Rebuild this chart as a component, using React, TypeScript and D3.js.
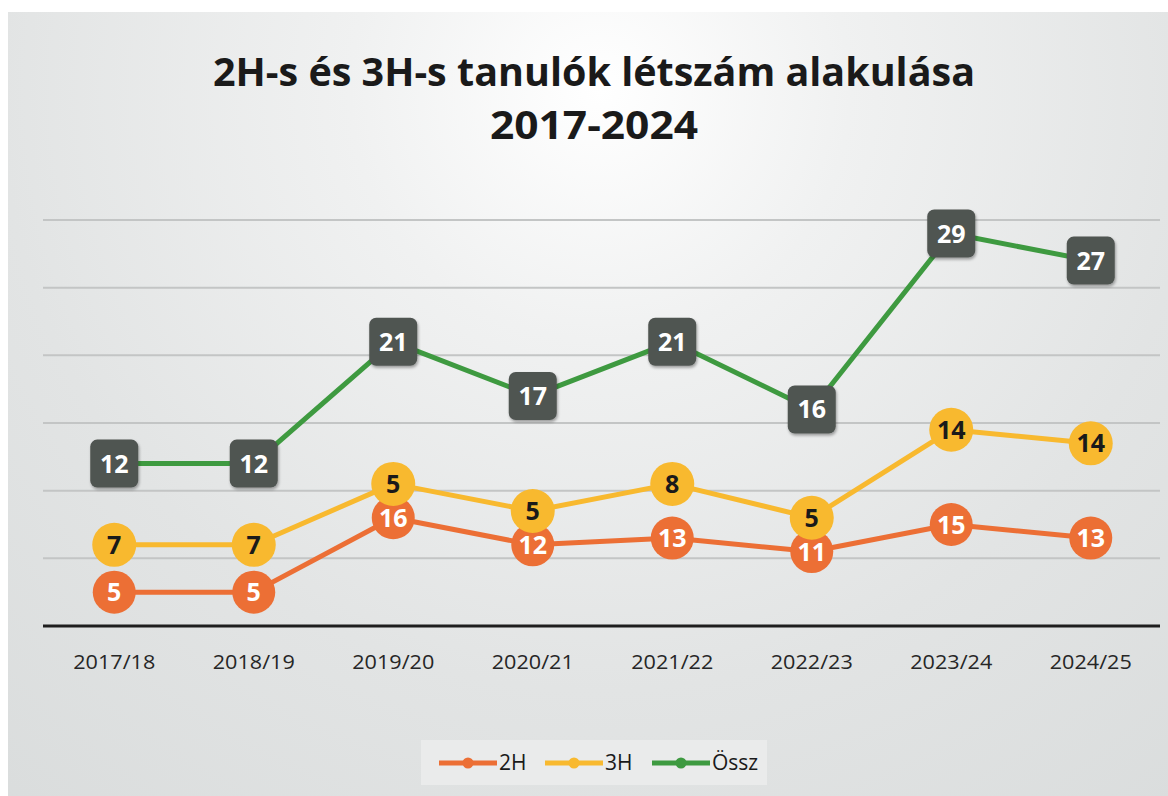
import React from "react";
import * as d3 from "d3";

const categories = ["2017/18", "2018/19", "2019/20", "2020/21", "2021/22", "2022/23", "2023/24", "2024/25"];
const values2H = [5, 5, 16, 12, 13, 11, 15, 13];
const values3H = [7, 7, 5, 5, 8, 5, 14, 14];
const valuesTotal = [12, 12, 21, 17, 21, 16, 29, 27];
const yTicks = [0, 5, 10, 15, 20, 25, 30];
const seriesNames = ["2H", "3H", "Össz"];

// positions as drawn in the original (2H at half height, 3H stacked at half height, total at full)
const pos2H = values2H.map((v) => v / 2);
const pos3H = values2H.map((v, i) => (v + values3H[i]) / 2);

const W = 1168;
const H = 796;
const FONT = "'Open Sans', 'Noto Sans', 'DejaVu Sans', sans-serif";

const C_ORANGE = "#ec6f35";
const C_YELLOW = "#f8b92f";
const C_GREEN = "#3e9a40";
const C_BOX = "#4f5451";

export default function App() {
  const x = d3.scaleBand<string>().domain(categories).range([44.5, 1160.5]);
  const y = d3.scaleLinear().domain([0, 30]).range([626, 220]);
  const cx = (c: string) => (x(c) as number) + x.bandwidth() / 2;
  const line = d3
    .line<number>()
    .x((_, i) => cx(categories[i]))
    .y((d) => y(d));

  return (
    <svg
      width={W}
      height={H}
      viewBox={`0 0 ${W} ${H}`}
      style={{ position: "absolute", left: 0, top: 0, display: "block" }}
    >
      <defs>
        <radialGradient id="bg" cx="600" cy="90" r="1000" gradientUnits="userSpaceOnUse">
          <stop offset="0" stopColor="#ffffff" />
          <stop offset="0.25" stopColor="#f0f1f1" />
          <stop offset="0.6" stopColor="#e2e4e4" />
          <stop offset="1" stopColor="#d8dbdb" />
        </radialGradient>
        <filter id="sh" x="-30%" y="-30%" width="160%" height="160%">
          <feGaussianBlur in="SourceAlpha" stdDeviation="1.5" />
          <feOffset dx="1" dy="1.5" result="b" />
          <feComponentTransfer>
            <feFuncA type="linear" slope="0.35" />
          </feComponentTransfer>
          <feMerge>
            <feMergeNode />
            <feMergeNode in="SourceGraphic" />
          </feMerge>
        </filter>
      </defs>
      <rect x={0} y={0} width={W} height={H} fill="#ffffff" />
      <rect x={8} y={12} width={W - 8} height={H - 12} fill="url(#bg)" />

      {/* title */}
      <text
        x={594}
        y={86}
        textAnchor="middle"
        fontFamily={FONT}
        fontWeight={700}
        fontSize={40}
        fill="#1a1a1a"
        textLength={762}
        lengthAdjust="spacingAndGlyphs"
      >
        2H-s és 3H-s tanulók létszám alakulása
      </text>
      <text
        x={594}
        y={139}
        textAnchor="middle"
        fontFamily={FONT}
        fontWeight={700}
        fontSize={40}
        fill="#1a1a1a"
        textLength={208}
        lengthAdjust="spacingAndGlyphs"
      >
        2017-2024
      </text>

      {/* gridlines */}
      {yTicks.slice(1).map((t) => (
        <line key={t} x1={43} x2={1160} y1={y(t)} y2={y(t)} stroke="#c3c5c5" strokeWidth={2} />
      ))}
      <line x1={43} x2={1160} y1={y(0)} y2={y(0)} stroke="#1e1e1e" strokeWidth={3} />

      {/* x labels */}
      {categories.map((c) => (
        <text
          key={c}
          x={cx(c)}
          y={669}
          textAnchor="middle"
          fontFamily={FONT}
          fontSize={20}
          fill="#262626"
          textLength={82}
          lengthAdjust="spacingAndGlyphs"
        >
          {c}
        </text>
      ))}

      {/* 2H */}
      <path d={line(pos2H) as string} fill="none" stroke={C_ORANGE} strokeWidth={5} strokeLinejoin="round" />
      {pos2H.map((v, i) => (
        <g key={"o" + i}>
          <circle cx={cx(categories[i])} cy={y(v)} r={21.5} fill={C_ORANGE} />
          <text
            x={cx(categories[i])}
            y={y(v) + 9}
            textAnchor="middle"
            fontFamily={FONT}
            fontWeight={700}
            fontSize={25}
            fill="#ffffff"
          >
            {values2H[i]}
          </text>
        </g>
      ))}

      {/* 3H */}
      <path d={line(pos3H) as string} fill="none" stroke={C_YELLOW} strokeWidth={5} strokeLinejoin="round" />
      {pos3H.map((v, i) => (
        <g key={"y" + i}>
          <circle cx={cx(categories[i])} cy={y(v)} r={22} fill={C_YELLOW} />
          <text
            x={cx(categories[i])}
            y={y(v) + 9}
            textAnchor="middle"
            fontFamily={FONT}
            fontWeight={700}
            fontSize={25}
            fill="#1a1a1a"
          >
            {values3H[i]}
          </text>
        </g>
      ))}

      {/* Össz */}
      <path d={line(valuesTotal) as string} fill="none" stroke={C_GREEN} strokeWidth={5} strokeLinejoin="round" />
      {valuesTotal.map((v, i) => (
        <g key={"g" + i}>
          <rect
            x={cx(categories[i]) - 24}
            y={y(v) - 24}
            width={48}
            height={48}
            rx={7}
            fill={C_BOX}
            filter="url(#sh)"
          />
          <text
            x={cx(categories[i])}
            y={y(v) + 9}
            textAnchor="middle"
            fontFamily={FONT}
            fontWeight={700}
            fontSize={25}
            fill="#ffffff"
          >
            {v}
          </text>
        </g>
      ))}

      {/* legend */}
      <rect x={421} y={740} width={346} height={45} fill="#eaebeb" />
      {seriesNames.map((s, i) => {
        const colors = [C_ORANGE, C_YELLOW, C_GREEN];
        const lx = [439, 545, 652][i];
        return (
          <g key={s}>
            <line x1={lx} x2={lx + 58} y1={763} y2={763} stroke={colors[i]} strokeWidth={5} />
            <circle cx={lx + 29} cy={763} r={5.5} fill={colors[i]} />
            <text x={lx + 60} y={770} fontFamily={FONT} fontSize={21} fill="#1a1a1a">
              {s}
            </text>
          </g>
        );
      })}
    </svg>
  );
}
